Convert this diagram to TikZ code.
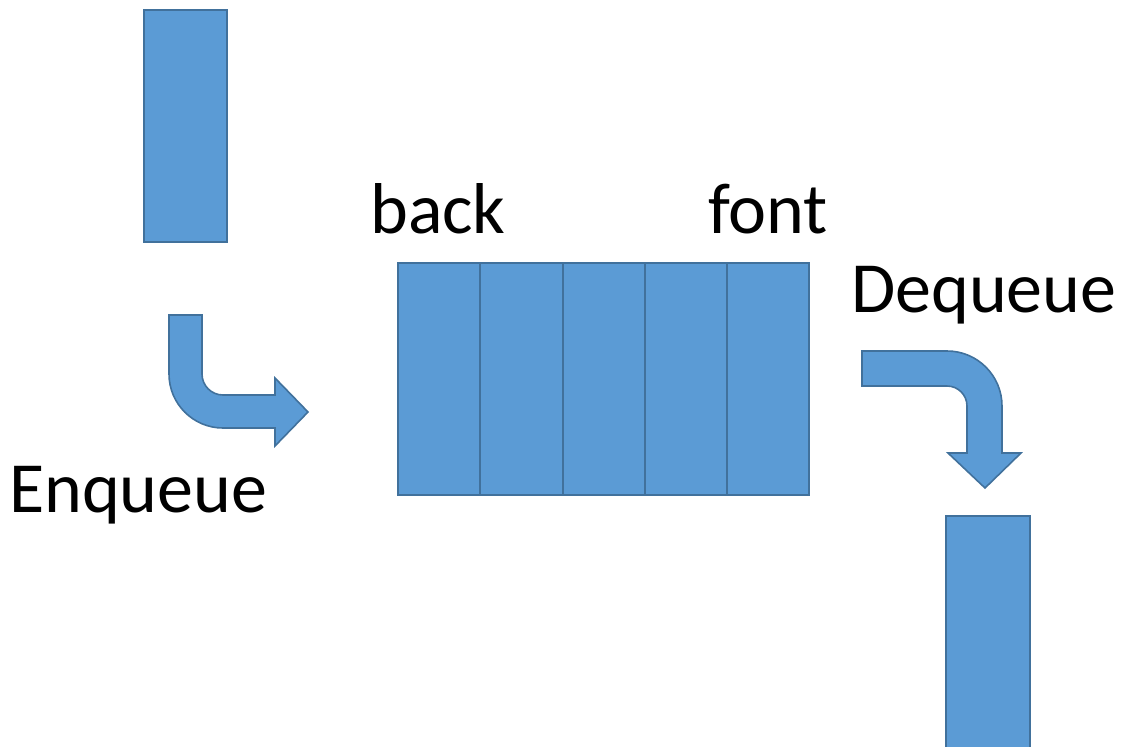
\documentclass[tikz,border=0pt]{standalone}
\usepackage{fontspec}
\setmainfont{Carlito}
\tikzset{
  blk/.style={fill=boxfill, draw=boxline, line width=1.6pt},
  cell/.style={blk, rectangle, minimum width=82pt, minimum height=232pt, inner sep=0pt, outer sep=0pt, anchor=north west},
  lbl/.style={font=\fontsize{72}{78}\selectfont, inner sep=0pt, anchor=base west},
}
\definecolor{boxfill}{HTML}{5B9BD5}
\definecolor{boxline}{HTML}{41719C}
\begin{document}
\begin{tikzpicture}[x=1pt, y=-1pt]
  \useasboundingbox (0,0) rectangle (1133,747);
  \clip (0,0) rectangle (1133,747);

  % element waiting to enter the queue
  \node[cell, minimum width=83pt, minimum height=232pt] (incoming) at (144,10) {};

  % the queue itself: five cells from back to front
  \node[cell] (c1) at (398,263) {};
  \node[cell] (c2) at (480.5,263) {};
  \node[cell] (c3) at (563,263) {};
  \node[cell] (c4) at (645,263) {};
  \node[cell] (c5) at (727,263) {};

  % element that has left the queue
  \node[cell, minimum width=84pt, minimum height=260pt] (outgoing) at (946,516) {};

  % enqueue bent arrow
  \draw[blk, line join=miter]
    (169,315) -- (202,315) -- (202,374) arc (180:90:21) -- (275,395)
    -- (275,378) -- (308,412) -- (275,446) -- (275,428) -- (223,428)
    arc (90:180:54) -- cycle;

  % dequeue bent arrow
  \draw[blk, line join=miter]
    (862,351) -- (947,351) arc (-90:0:55) -- (1002,453) -- (1021,453)
    -- (985,488) -- (948,453) -- (967,453) -- (967,406) arc (0:-90:20)
    -- (862,386) -- cycle;

  % labels
  \node[lbl] (back)  at (370,233) {back};
  \node[lbl] (front) at (708,233) {font};
  \node[lbl] (deq)   at (851,312) {Dequeue};
  \node[lbl] (enq)   at (9,512)  {Enqueue};
\end{tikzpicture}
\end{document}
